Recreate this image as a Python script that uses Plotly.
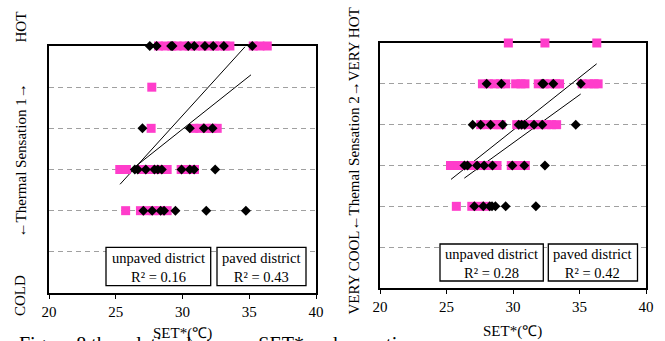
import plotly.graph_objects as go

# ---------------- data ----------------
X_TICKS = [20, 25, 30, 35, 40]
LEVELS = [1, 2, 3, 4, 5, 6, 7]          # COLD (1) ... HOT (7)

# Left panel : Thermal Sensation 1
L_PINK = {
    7: [28.2, 28.7, 29.2, 29.6, 30.1, 30.5, 31.0, 31.5, 31.9, 32.4, 32.8, 33.2, 33.55, 35.3, 35.8, 36.35],
    6: [27.7],
    5: [27.65, 30.85, 31.3, 31.8, 32.2, 32.6],
    4: [25.3, 25.8, 26.95, 27.4, 27.9, 28.4, 28.85, 29.9, 30.4, 30.9],
    3: [25.74, 26.85, 27.3, 27.8, 28.3, 28.85],
}
L_BLACK = {
    7: [27.55, 28.06, 29.15, 29.25, 30.43, 30.88, 31.68, 32.30, 33.10, 35.23],
    5: [27.0, 30.55, 31.6, 32.25],
    4: [26.43, 26.65, 27.25, 27.9, 28.15, 28.45, 29.93, 30.55, 30.87, 32.45],
    3: [27.07, 27.73, 28.36, 28.62, 29.47, 31.78, 34.75],
}
L_FIT_X0 = [25.32, 26.35]
L_FIT_Y0 = [3.64, 4.04]
L_FIT_X1 = [34.68, 35.13]
L_FIT_Y1 = [6.98, 6.30]
L_R2 = ["0.16", "0.43"]

# Right panel : Thermal Sensation 2
R_PINK = {
    7: [29.65, 32.4, 36.3],
    6: [27.7, 28.15, 28.6, 29.05, 29.45, 30.2, 30.6, 30.9, 31.9, 32.35, 32.8, 33.2, 33.5, 35.2, 35.7, 36.1, 36.4],
    5: [27.57, 28.0, 28.5, 28.9, 29.1, 30.28, 30.7, 31.2, 31.6, 32.1, 32.5, 32.9, 33.28],
    4: [25.3, 25.85, 26.45, 26.9, 27.35, 27.8, 28.3, 28.8, 29.87, 30.4, 30.93],
    3: [25.74, 26.9, 27.4, 27.95],
}
R_BLACK = {
    6: [28.02, 29.12, 32.2, 32.3, 33.03, 35.1],
    5: [26.97, 27.57, 28.32, 29.23, 30.43, 30.65, 30.88, 31.58, 32.2, 34.72],
    4: [26.35, 26.58, 27.3, 27.83, 28.46, 29.95, 30.85, 32.4],
    3: [27.09, 27.77, 28.25, 28.42, 28.68, 29.45, 31.72],
}
R_FIT_X0 = [25.34, 26.34]
R_FIT_Y0 = [3.66, 3.69]
R_FIT_X1 = [36.29, 35.09]
R_FIT_Y1 = [6.49, 5.75]
R_R2 = ["0.28", "0.42"]

GROUPS = ["unpaved district", "paved district"]

# ---------------- styling ----------------
W, H = 665, 341
FONT = "Liberation Serif, Times New Roman, serif"
PINK = "#ff3dcb"


def flat(d):
    xs, ys = [], []
    for lvl, vals in d.items():
        xs += vals
        ys += [lvl] * len(vals)
    return xs, ys


def px(x):
    return x / W


def py(y):
    return 1 - y / H


fig = go.Figure()

panels = [
    ("x", "y", L_PINK, L_BLACK, (L_FIT_X0, L_FIT_Y0, L_FIT_X1, L_FIT_Y1)),
    ("x2", "y2", R_PINK, R_BLACK, (R_FIT_X0, R_FIT_Y0, R_FIT_X1, R_FIT_Y1)),
]
for xa, ya, pink, black, fits in panels:
    x0s, y0s, x1s, y1s = fits
    for i in range(len(x0s)):
        fig.add_trace(go.Scatter(x=[x0s[i], x1s[i]], y=[y0s[i], y1s[i]], mode="lines",
                                 line=dict(color="black", width=1), xaxis=xa, yaxis=ya,
                                 showlegend=False, hoverinfo="skip"))
    xs, ys = flat(pink)
    fig.add_trace(go.Scatter(x=xs, y=ys, mode="markers", name=GROUPS[0],
                             marker=dict(symbol="square", size=9, color=PINK, line=dict(width=0)),
                             xaxis=xa, yaxis=ya, showlegend=False, cliponaxis=False))
    xs, ys = flat(black)
    fig.add_trace(go.Scatter(x=xs, y=ys, mode="markers", name=GROUPS[1],
                             marker=dict(symbol="diamond", size=7.7, color="black", line=dict(width=0)),
                             xaxis=xa, yaxis=ya, showlegend=False, cliponaxis=False))

xcommon = dict(range=[20, 40], tickvals=X_TICKS, ticktext=[str(v) for v in X_TICKS],
               ticks="outside", ticklen=4, tickwidth=1, tickcolor="black",
               showline=True, linewidth=2, linecolor="black", mirror=True,
               showgrid=False, zeroline=False, layer="below traces",
               tickfont=dict(family=FONT, size=15, color="black"), automargin=False)
ycommon = dict(range=[1, 7], tickvals=LEVELS[1:-1], showticklabels=False, ticks="",
               showline=True, linewidth=2, linecolor="black", mirror=True,
               showgrid=True, gridcolor="#a0a0a0", gridwidth=1, griddash="5px,4px",
               zeroline=False, layer="below traces", automargin=False)

fig.update_layout(
    width=W, height=H, margin=dict(l=0, r=0, t=0, b=0),
    font=dict(family=FONT, size=15, color="black"),
    paper_bgcolor="white", plot_bgcolor="white",
    xaxis=dict(domain=[px(49), px(316)], anchor="y", **xcommon),
    yaxis=dict(domain=[py(293), py(46)], anchor="x", **ycommon),
    xaxis2=dict(domain=[px(380), px(646)], anchor="y2", **xcommon),
    yaxis2=dict(domain=[py(288), py(43)], anchor="x2", **ycommon),
)

ann = []
shapes = []
# y-axis labels
ann.append(dict(text="HOT", x=px(20), y=py(27.5), textangle=-90))
ann.append(dict(text="←Thermal Sensation 1→", x=px(20), y=py(160.5), textangle=-90))
ann.append(dict(text="COLD", x=px(20), y=py(296), textangle=-90))
ann.append(dict(text="VERY COOL←Themal Sensation 2→VERY HOT", x=px(353), y=py(161.5), textangle=-90))
# x-axis titles
ann.append(dict(text="SET*(℃)", x=px(182), y=py(333)))
ann.append(dict(text="SET*(℃)", x=px(512), y=py(331)))
# caption, cut off at the bottom edge as in the reference
ann.append(dict(text="Figure 8 the relation between SET* and sensation", x=px(17), y=py(344),
                xanchor="left", font=dict(family=FONT, size=20, color="black")))

# R² boxes  (box px: x0, x1, y0, y1)
boxes = [
    (106, 210.7, 247.3, 285.7, GROUPS[0], L_R2[0]),
    (217, 306, 247.3, 285.7, GROUPS[1], L_R2[1]),
    (440, 543.3, 244, 281, GROUPS[0], R_R2[0]),
    (548.3, 637.5, 244, 281, GROUPS[1], R_R2[1]),
]
for x0, x1, y0, y1, g, r2 in boxes:
    shapes.append(dict(type="rect", xref="paper", yref="paper", x0=px(x0), x1=px(x1),
                       y0=py(y1), y1=py(y0), line=dict(color="black", width=1.3),
                       fillcolor="white", layer="above"))
    ann.append(dict(text=g + "<br>R² = " + r2, x=px((x0 + x1) / 2), y=py((y0 + y1) / 2 + 0.5),
                    font=dict(family=FONT, size=14.5, color="black")))

for a in ann:
    a.setdefault("xref", "paper")
    a.setdefault("yref", "paper")
    a.setdefault("showarrow", False)
    a.setdefault("xanchor", "center")
    a.setdefault("yanchor", "middle")
    a.setdefault("font", dict(family=FONT, size=15, color="black"))

fig.update_layout(annotations=ann, shapes=shapes)

fig.write_html("out.html", config={"displayModeBar": False},
               post_script="document.body.style.margin='0';")
